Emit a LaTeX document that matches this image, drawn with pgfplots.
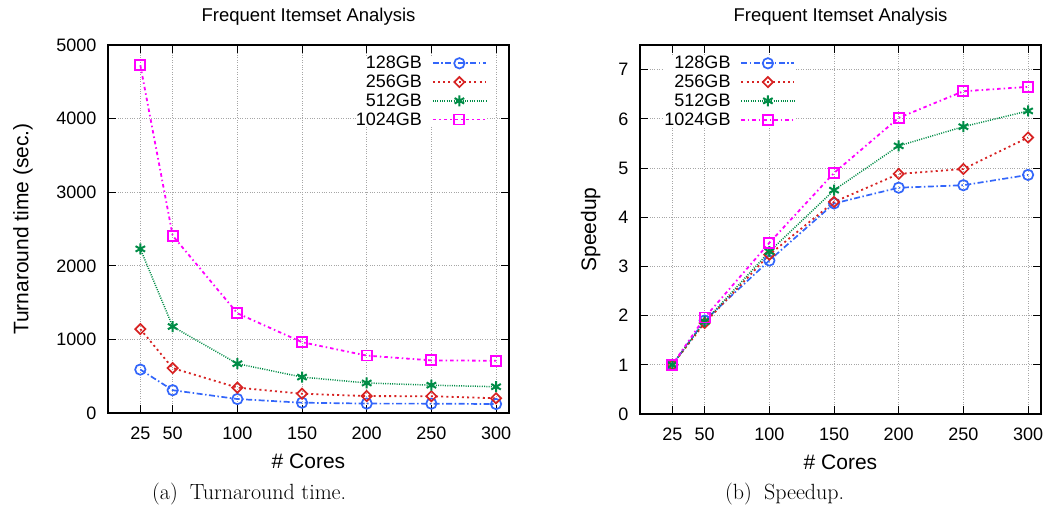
\documentclass[border=0pt]{standalone}
\usepackage{pgfplots}
\pgfplotsset{compat=1.18}
\usepackage{fontspec}
\newfontfamily\gp{Liberation Sans}
\definecolor{c1}{RGB}{51,102,250}
\definecolor{c2}{RGB}{215,35,35}
\definecolor{c3}{RGB}{0,140,70}
\definecolor{c4}{RGB}{255,0,255}
\pgfplotsset{
 gpstyle/.style={
  scale only axis, width=401pt,
  xmin=0, xmax=310, xtick={25,50,100,150,200,250,300},
  grid=major, grid style={dotted, black!35, line width=0.9pt},
  axis line style={line width=1.2pt, black},
  tick style={line width=1pt, black}, major tick length=8pt,
  tick align=inside, tick pos=both,
  ticklabel style={font=\gp\fontsize{18}{18}\selectfont},
  /pgf/number format/assume math mode=true,
  /pgf/number format/set thousands separator={},
  xticklabel style={anchor=base, yshift=-26pt, inner sep=0pt},
  yticklabel style={anchor=east, xshift=-11.5pt, inner sep=0pt},
  label style={font=\gp\fontsize{21}{21}\selectfont},
  xlabel style={at={(axis description cs:0.5,0)}, anchor=base, yshift=-55.3pt},
  title style={font=\gp\fontsize{18.5}{18.5}\selectfont, at={(axis description cs:0.5,1)}, anchor=base, yshift=18pt},
  legend style={draw=none, fill=white, font=\gp\fontsize{18}{18}\selectfont,
    inner sep=0pt, row sep=4.7pt, column sep=10pt, nodes={inner sep=0pt}},
  legend cell align=right, legend plot pos=right,
  legend image code/.code={\draw[mark repeat=2,mark phase=2] plot coordinates {(0pt,0pt) (26.5pt,0pt) (53pt,0pt)};},
 },
 s1/.style={c1, line width=1.7pt, dash pattern=on 6pt off 2.5pt on 1.5pt off 2.5pt, mark=o, mark size=5.2pt, mark options={solid, line width=1.7pt}},
 s2/.style={c2, line width=1.8pt, dash pattern=on 2pt off 3.2pt, mark=square, mark size=3.6pt, mark options={solid, rotate=45, line width=1.7pt}},
 s3/.style={c3, line width=1.5pt, dash pattern=on 1pt off 1.3pt, mark=asterisk, mark size=5.5pt, mark options={solid, line width=2pt}},
 s4/.style={c4, line width=1.8pt, dash pattern=on 3.5pt off 3pt on 1.5pt off 3pt, mark=square, mark size=5pt, mark options={solid, line width=1.8pt}},
}
\begin{document}
\begin{tikzpicture}
\useasboundingbox (0pt,0pt) rectangle (1047pt,-509pt);
\begin{axis}[gpstyle, at={(108pt,-413pt)}, anchor=south west, height=368pt,
  ymin=0, ymax=5000, ytick={0,1000,2000,3000,4000,5000},
  title={Frequent Itemset Analysis}, xlabel={\# Cores}, ylabel={Turnaround time (sec.)},
  ylabel style={at={(axis description cs:-0.1988,0.5)}, anchor=base},
  legend style={at={(0.9451,0.970)}, anchor=north east}]
\addplot[s1] coordinates {(25,590)(50,310)(100,190)(150,140)(200,128)(250,127)(300,122)};
\addlegendentry{128GB}
\addplot[s2] coordinates {(25,1140)(50,610)(100,345)(150,262)(200,230)(250,228)(300,200)};
\addlegendentry{256GB}
\addplot[s3] coordinates {(25,2230)(50,1175)(100,670)(150,488)(200,408)(250,378)(300,357)};
\addlegendentry{512GB}
\addplot[s4] coordinates {(25,4725)(50,2410)(100,1355)(150,962)(200,780)(250,715)(300,710)};
\addlegendentry{1024GB}
\end{axis}
\begin{axis}[gpstyle, at={(640pt,-414pt)}, anchor=south west, height=369pt,
  ymin=0, ymax=7.5, ytick={0,1,2,3,4,5,6,7},
  title={Frequent Itemset Analysis}, xlabel={\# Cores}, ylabel={Speedup},
  ylabel style={at={(axis description cs:-0.1097,0.5)}, anchor=base},
  legend style={at={(0.3878,0.970)}, anchor=north east}]
\addplot[s1] coordinates {(25,1)(50,1.9)(100,3.12)(150,4.28)(200,4.6)(250,4.65)(300,4.86)};
\addlegendentry{128GB}
\addplot[s2] coordinates {(25,1)(50,1.85)(100,3.24)(150,4.31)(200,4.88)(250,4.98)(300,5.62)};
\addlegendentry{256GB}
\addplot[s3] coordinates {(25,1)(50,1.88)(100,3.3)(150,4.55)(200,5.45)(250,5.84)(300,6.16)};
\addlegendentry{512GB}
\addplot[s4] coordinates {(25,1)(50,1.96)(100,3.48)(150,4.9)(200,6.02)(250,6.56)(300,6.65)};
\addlegendentry{1024GB}
\end{axis}
\node[anchor=base west, inner sep=0pt] at (152pt,-499pt) {\fontsize{22}{22}\selectfont (a)\hspace{12pt}Turnaround time.};
\node[anchor=base west, inner sep=0pt] at (725pt,-499pt) {\fontsize{22}{22}\selectfont (b)\hspace{12pt}Speedup.};
\end{tikzpicture}
\end{document}
